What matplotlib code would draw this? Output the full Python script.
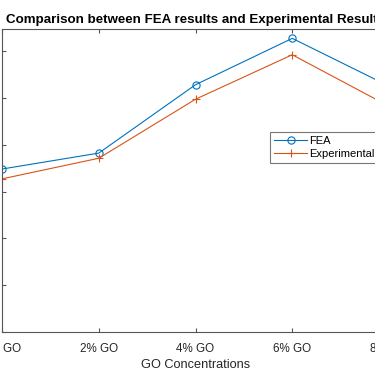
import matplotlib
matplotlib.use("Agg")
import matplotlib.pyplot as plt

categories = ["0% GO", "2% GO", "4% GO", "6% GO", "8% GO"]
fea = [3.48, 3.82, 5.28, 6.27, 5.25]
experimental = [3.27, 3.71, 4.97, 5.92, 4.82]
y_ticks = [0, 1, 2, 3, 4, 5, 6]

plt.rcParams['font.family'] = ['Liberation Sans', 'DejaVu Sans']

W = 375
fig = plt.figure(figsize=(3.75, 3.75), dpi=100)
# axes spans from x=2px to ~389px (right part cut off in the reference)
left = 2 / W
width = 387 / W
bottom = (375 - 332) / W
height = 303 / W
ax = fig.add_axes([left, bottom, width, height])

x = list(range(1, len(categories) + 1))
ax.plot(x, fea, color='#0072BD', lw=0.8, marker='o', ms=5.2, mfc='none', mew=0.8, label='FEA')
ax.plot(x, experimental, color='#D95319', lw=0.8, marker='+', ms=5.5, mew=0.8, label='Experimental')

ax.set_xlim(1, 5)
ax.set_ylim(0, 6.47)
ax.set_xticks(x)
ax.set_xticklabels(categories)
ax.set_yticks(y_ticks)
ax.tick_params(axis='both', direction='in', length=3, width=0.8, color='#555555',
               labelsize=8.4, labelcolor='#262626', top=True, right=True, labelleft=False, pad=8)
for s in ax.spines.values():
    s.set_color('#555555')
    s.set_linewidth(0.8)

ax.set_xlabel('GO Concentrations', fontsize=9.2, color='#262626', labelpad=3)
ax.set_title('Comparison between FEA results and Experimental Results', fontsize=9.6,
             fontweight='bold', color='black', pad=4)

leg = ax.legend(loc='upper left', bbox_to_anchor=((270 - 2) / 387, (332 - 132) / 303),
                fontsize=8, frameon=True, fancybox=False, edgecolor='#555555',
                handlelength=3.0, borderpad=0.35, labelspacing=0.25, handletextpad=0.2,
                borderaxespad=0)
leg.get_frame().set_linewidth(0.8)

fig.savefig('out.png', dpi=100)
